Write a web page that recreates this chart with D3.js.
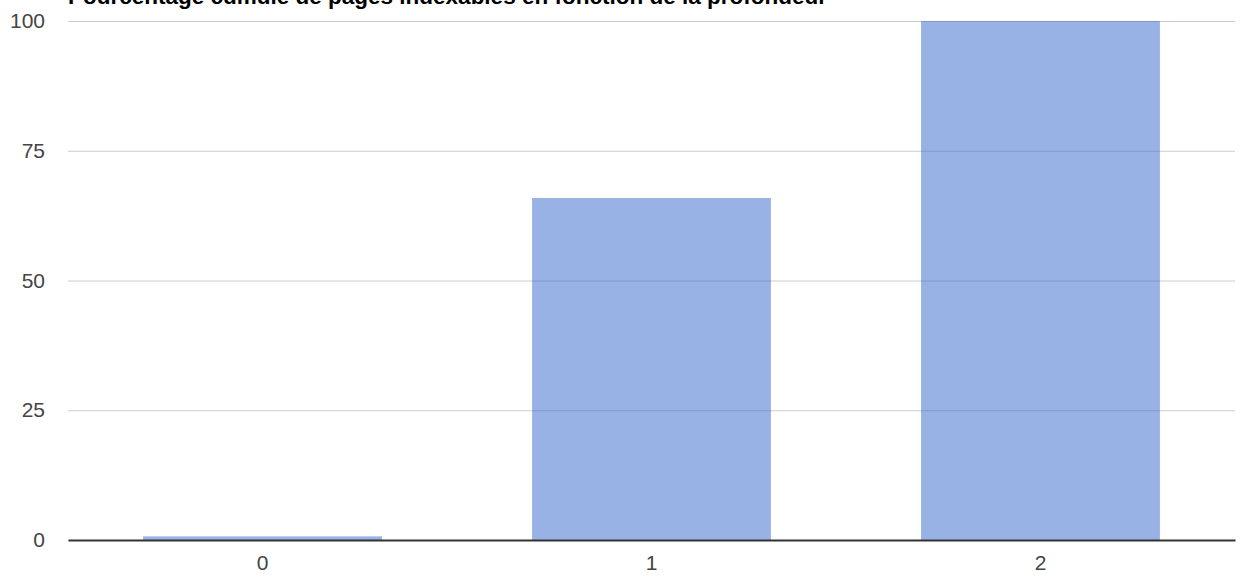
<!DOCTYPE html>
<html><head><meta charset="utf-8">
<script src="https://cdn.jsdelivr.net/npm/d3@7"></script>
<style>html,body{margin:0;padding:0;background:#fff;}svg{display:block;}</style>
</head><body>
<svg id="c" width="1240" height="583"></svg>
<script>
const title = "Pourcentage cumulé de pages indexables en fonction de la profondeur";
const categories = ["0", "1", "2"];
const values = [0.7, 65.9, 100];
const yTicks = [0, 25, 50, 75, 100];

const svg = d3.select("#c");
const m = {left: 68, right: 5, top: 21, bottom: 43};
const W = 1240, H = 583;
const x = d3.scaleBand().domain(categories).range([m.left, W - m.right]).paddingInner(0.386).paddingOuter(0.193);
const y = d3.scaleLinear().domain([0, 100]).range([H - m.bottom, m.top]);

const font = "Liberation Sans, Arial, sans-serif";

// gridlines
const yAxis = d3.axisLeft(y).tickValues(yTicks).tickSize(-(W - m.left - m.right)).tickPadding(23).tickFormat(d3.format("d"));
const gy = svg.append("g").attr("transform", `translate(${m.left},0)`).call(yAxis);
gy.select(".domain").remove();
gy.selectAll(".tick line").attr("stroke", "#cccccc").attr("stroke-width", 1);
gy.selectAll(".tick text").attr("fill", "#444").style("font-family", font).style("font-size", "21px");

// bars
svg.append("g").selectAll("rect").data(values).join("rect")
  .attr("x", (d, i) => x(categories[i]))
  .attr("width", x.bandwidth())
  .attr("y", d => y(d))
  .attr("height", d => y(0) - y(d))
  .attr("fill", "#3366cc").attr("fill-opacity", 0.5);

// x axis
const xAxis = d3.axisBottom(x).tickSize(0).tickPadding(15);
const gx = svg.append("g").attr("transform", `translate(0,${y(0)})`).call(xAxis);
gx.select(".domain").attr("stroke", "#333").attr("stroke-width", 2);
gx.selectAll(".tick text").attr("fill", "#444").style("font-family", font).style("font-size", "21px");

// title
svg.append("text").attr("x", 68).attr("y", 4)
  .attr("fill", "#000").style("font-family", font).style("font-weight", "bold").style("font-size", "22.5px")
  .text(title);
</script>
</body></html>
